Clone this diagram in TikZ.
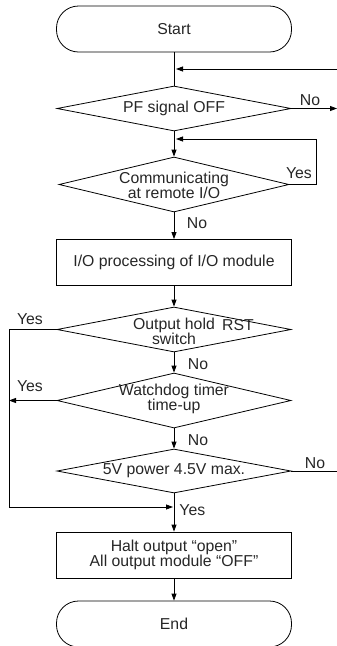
\documentclass[tikz,border=0pt]{standalone}
\usepackage{fontspec}
\setmainfont{Liberation Sans}
\usetikzlibrary{arrows.meta,shapes.geometric}
\begin{document}
\begin{tikzpicture}[x=1pt,y=-1pt,
  line width=0.8pt,
  every node/.style={font=\fontsize{15.8}{15.2}\selectfont,text=black!85},
  term/.style={draw,rounded corners=22pt,minimum width=235pt,minimum height=46pt,inner sep=0},
  proc/.style={draw,minimum width=235pt,minimum height=46pt,inner sep=0,align=center},
  dec/.style={draw,diamond,inner sep=0,minimum width=234pt},
  lbl/.style={inner sep=0,align=center},
  arr/.style={-{Triangle[length=7pt,width=5pt]}}
]
\useasboundingbox (0,0) rectangle (337,646);

\node[term] (start) at (174,29) {Start};
\coordinate (j1) at (174,69);
\coordinate (inR) at (337,69);
\node[dec,minimum height=45pt] (pf) at (174,108.5) {};
\node[lbl] (pft) at (174,108.5) {PF signal OFF};
\coordinate (outR) at (337,108.5);
\node[lbl] (pfno) at (310,100) {No};

\node[dec,minimum height=55pt,minimum width=230pt] (comm) at (174,184.5) {};
\node[lbl] (commt) at (174,185) {Communicating\\at remote I/O};
\coordinate (j2) at (174,139);
\coordinate (cy1) at (316,184.5);
\coordinate (cy2) at (316,139);
\node[lbl] (commyes) at (299,173) {Yes};
\node[lbl] (commno) at (197,223) {No};

\node[proc] (io) at (174,262.5) {I/O processing of I/O module};

\node[dec,minimum height=45pt] (oh) at (174,329.5) {};
\node[lbl] (oht) at (174,331) {Output hold\\switch};
\node[lbl] (rst) at (238,325) {RST};
\node[lbl] (ohyes) at (30,319) {Yes};
\node[lbl] (ohno) at (198,364) {No};
\coordinate (c1) at (9,329.5);
\coordinate (c2) at (9,507);

\node[dec,minimum height=55pt] (wd) at (174,400.5) {};
\node[lbl] (wdt) at (174,399) {Watchdog timer\\time-up};
\coordinate (c3) at (9,400.5);
\node[lbl] (wdyes) at (30,386) {Yes};
\node[lbl] (wdno) at (198,440) {No};

\node[dec,minimum height=44pt] (v5) at (174,471) {};
\node[lbl] (v5t) at (174,471) {5V power 4.5V max.};
\coordinate (v5R) at (337,471);
\node[lbl] (v5no) at (315,463) {No};
\coordinate (j3) at (174,507);
\node[lbl,anchor=west] (v5yes) at (179,510) {Yes};

\node[proc] (halt) at (174,555) {Halt output “open”\\All output module “OFF”};
\node[term] (end) at (174,624) {End};

\draw (start.south) -- (pf.north);
\draw[arr,shorten >=2pt] (inR) -- (j1);
\draw[arr] (pf.east) -- (outR);
\draw[arr] (pf.south) -- (comm.north);
\draw[arr,shorten >=2pt] (comm.east) -- (cy1) -- (cy2) -- (j2);
\draw[arr] (comm.south) -- (io.north);
\draw[arr] (io.south) -- (oh.north);
\draw[arr] (oh.south) -- (wd.north);
\draw[arr,shorten >=1pt] (oh.west) -- (c1) -- (c2) -- (j3);
\draw[arr] (wd.west) -- (c3);
\draw[arr] (wd.south) -- (v5.north);
\draw (v5.east) -- (v5R);
\draw[arr] (v5.south) -- (halt.north);
\draw[arr] (halt.south) -- (end.north);
\end{tikzpicture}
\end{document}
